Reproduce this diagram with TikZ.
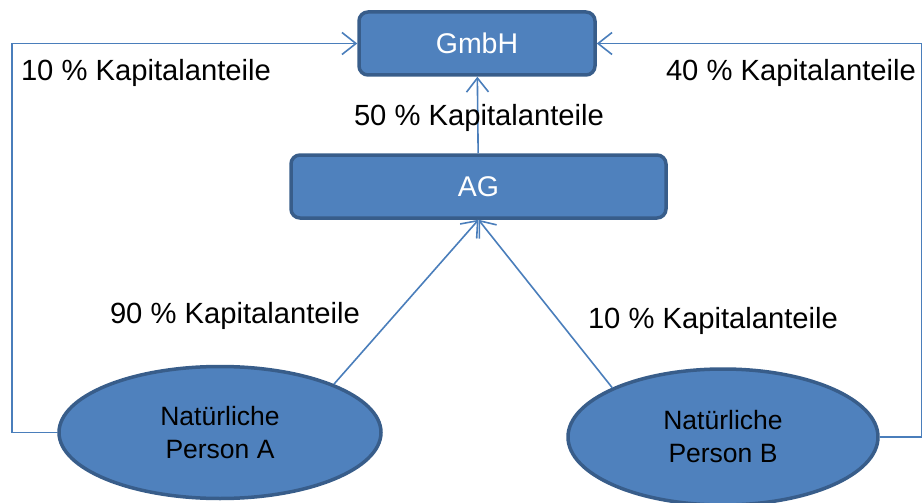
\documentclass[tikz,border=0pt]{standalone}
\usepackage{fontspec}
\setmainfont{Liberation Sans}
\usetikzlibrary{arrows.meta, positioning, shapes.geometric, calc}
\definecolor{boxfill}{RGB}{79,129,189}
\definecolor{boxline}{RGB}{56,93,138}
\definecolor{linkblue}{RGB}{74,126,187}

\begin{document}
\begin{tikzpicture}[
  x=1pt, y=-1pt,
  firm/.style={rectangle, draw=boxline, fill=boxfill, rounded corners=9pt,
               line width=3.5pt, text=white, font=\fontsize{28.5}{32}\selectfont},
  person/.style={ellipse, draw=boxline, fill=boxfill, line width=3.5pt,
                 minimum width=322pt, minimum height=132pt, align=center,
                 font=\fontsize{26.5}{33}\selectfont},
  share/.style={font=\fontsize{29.2}{32}\selectfont},
  arrow/.style={-{Straight Barb[length=14pt, width=22pt]}, line width=1.6pt, linkblue}
]
\useasboundingbox (0,0) rectangle (922,503);

\node[firm, minimum width=236pt, minimum height=63pt] (gmbh) at (477,43.5) {GmbH};
\node[firm, minimum width=375pt, minimum height=63pt] (ag) at (478.5,186.5) {AG};

\node[person] (persA) at (220,432.5) {Natürliche\\Person A};
\node[person, minimum width=310pt, minimum height=136pt] (persB) at (723,437) {Natürliche\\Person B};

\draw[arrow] (ag) -- (gmbh);
\draw[arrow] (persA.23) -- (ag.south);
\draw[arrow] (persB.156) -- (ag.south);
\draw[arrow] (persA.west) -- ++(-45,0) |- (gmbh.west);
\draw[arrow] (persB.east) -- ++(42,0) |- (gmbh.east);

\node[share] (shareA) at (146,73) {10 \% Kapitalanteile};
\node[share] (shareB) at (791,73) {40 \% Kapitalanteile};
\node[share] (shareAG) at (479,118) {50 \% Kapitalanteile};
\node[share] (sharePA) at (235,316) {90 \% Kapitalanteile};
\node[share] (sharePB) at (713,321) {10 \% Kapitalanteile};
\end{tikzpicture}
\end{document}
